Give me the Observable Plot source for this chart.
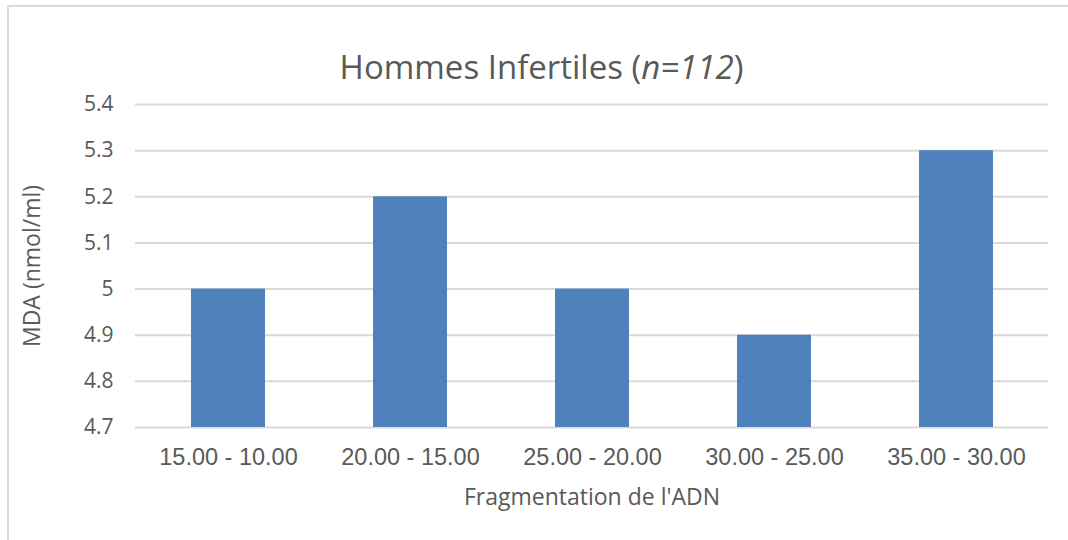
<!DOCTYPE html>
<html>
<head>
<meta charset="utf-8">
<script src="https://cdn.jsdelivr.net/npm/d3@7"></script>
<script src="https://cdn.jsdelivr.net/npm/@observablehq/plot@0.6"></script>
<style>
  html, body { margin: 0; padding: 0; background: #fff; overflow: hidden; }
  #wrap { position: relative; width: 1068px; height: 540px; overflow: hidden; background: #fff; }
  #frame { position: absolute; left: 7px; top: 5px; right: 0; bottom: 0; border-top: 2px solid #d9d9d9; border-left: 2px solid #d9d9d9; box-sizing: border-box; }
  #title { position: absolute; left: 0; top: 0; width: 1083px; height: 90px; text-align: center;
           font-family: "Open Sans", sans-serif; font-size: 33px; color: #595959; line-height: 1; padding-top: 50px; box-sizing: border-box; }
  #chart { position: absolute; left: 0; top: 90px; }
  #chart svg { font-family: "Open Sans", sans-serif; }
</style>
</head>
<body>
<div id="wrap">
  <div id="frame"></div>
  <div id="title">Hommes Infertiles (<i>n=112</i>)</div>
  <div id="chart"></div>
</div>
<script>
const categories = ["15.00 - 10.00", "20.00 - 15.00", "25.00 - 20.00", "30.00 - 25.00", "35.00 - 30.00"];
const mdaValues = [5.0, 5.2, 5.0, 4.9, 5.3];
const yTicks = [4.7, 4.8, 4.9, 5.0, 5.1, 5.2, 5.3, 5.4];
const yDomain = [4.7, 5.4];
const xLabel = "Fragmentation de l'ADN";
const yLabel = "MDA (nmol/ml)";

const data = categories.map((c, i) => ({cat: c, v: mdaValues[i]}));

const plot = Plot.plot({
  width: 1068,
  height: 450,
  marginTop: 14,
  marginBottom: 113,
  marginLeft: 135,
  marginRight: 20,
  style: {background: "transparent", color: "#595959"},
  x: {domain: categories, paddingInner: 0.595, paddingOuter: 0.2975, label: null},
  y: {domain: yDomain, ticks: yTicks, label: null},
  marks: [
    Plot.ruleY(yTicks, {stroke: "#d9d9d9", strokeWidth: 2}),
    Plot.rectY(data, {x: "cat", y1: yDomain[0], y2: "v", fill: "#4F81BD"}),
    Plot.axisY({ticks: yTicks, tickSize: 0, tickPadding: 22, fontSize: 21, fill: "#595959",
      tickFormat: d => d3.format("")(+d.toFixed(1)),
      label: yLabel, labelAnchor: "center", labelOffset: 112, labelArrow: "none"}),
    Plot.axisX({tickSize: 0, tickPadding: 21, fontSize: 23.5, fill: "#595959", fontFamily: "Liberation Sans", label: null}),
    Plot.axisX({ticks: [], tickSize: 0, label: xLabel, labelAnchor: "center", labelOffset: 77, labelArrow: "none", fontSize: 23, fill: "#595959"})
  ]
});
plot.querySelectorAll("[aria-label='y-axis label'] text").forEach(t => t.setAttribute("font-size", 23));
document.getElementById("chart").appendChild(plot);
</script>
</body>
</html>
